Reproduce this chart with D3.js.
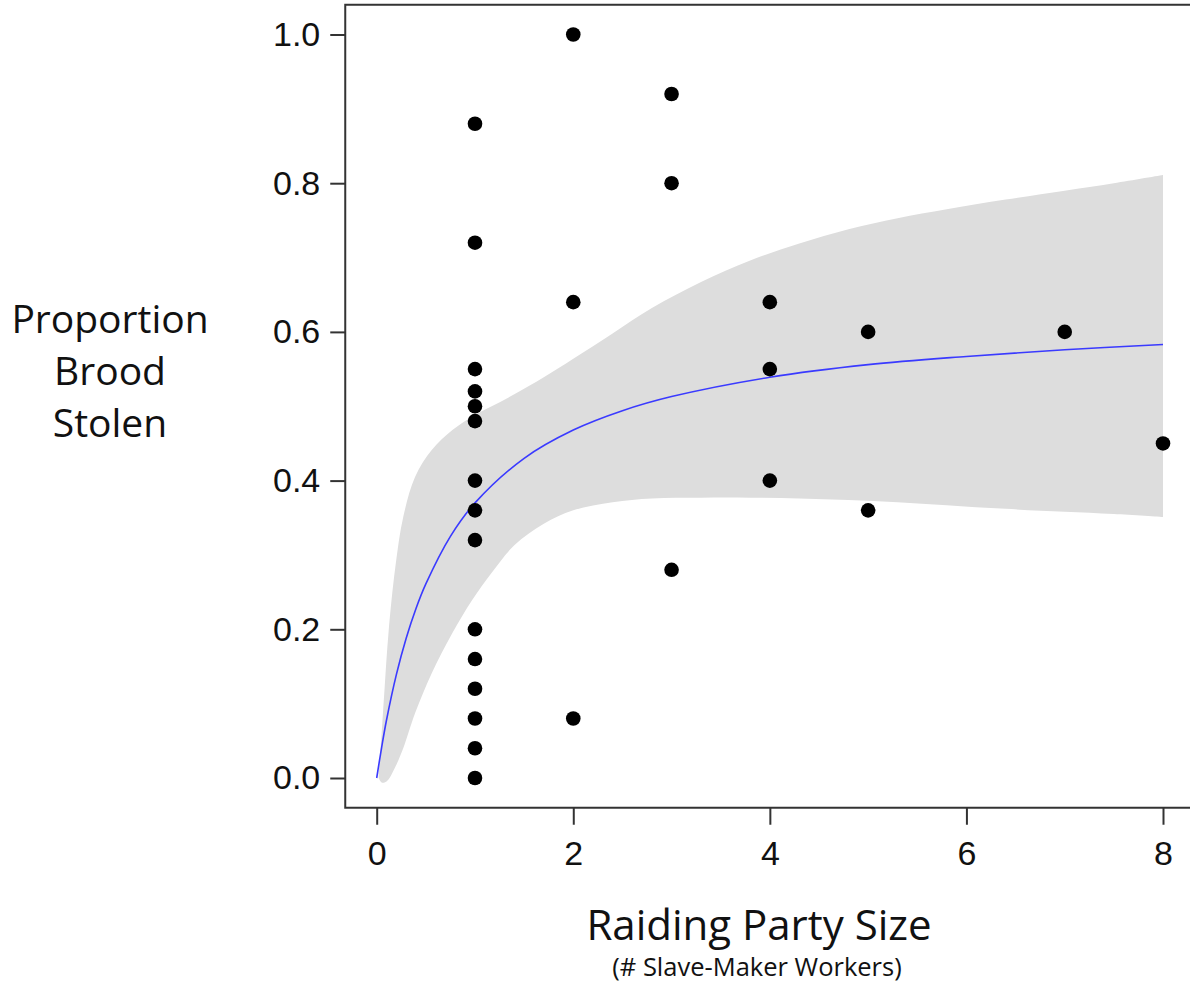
<!DOCTYPE html>
<html><head><meta charset="utf-8">
<script src="https://cdn.jsdelivr.net/npm/d3@7"></script>
<style>body{margin:0;background:#fff}svg{display:block}</style>
</head><body>
<svg id="c" width="1190" height="983"></svg>
<script>
// Observed data
const pointX = [1,1,1,1,1,1,1,1,1,1,1,1,1,1,1, 2,2,2, 3,3,3, 4,4,4, 5,5, 7, 8];
const pointY = [0.88,0.72,0.55,0.52,0.50,0.48,0.40,0.36,0.32,0.20,0.16,0.12,0.08,0.04,0.00,
                1.00,0.64,0.08, 0.92,0.80,0.28, 0.64,0.55,0.40, 0.60,0.36, 0.60, 0.45];
// Fitted curve
const fitX = [0,0.05,0.1,0.2,0.3,0.4,0.5,0.75,1,1.5,2,2.5,3,4,5,6,7,8];
const fitY = [0,0.041,0.078,0.139,0.188,0.228,0.261,0.325,0.370,0.430,0.468,0.494,0.513,0.539,0.556,0.567,0.576,0.583];
// Confidence band
const bandX = [0.02,0.05,0.08,0.12,0.19,0.27,0.39,0.56,0.77,0.97,1.17,1.4,1.7,2.0,2.4,2.8,3.3,3.8,4.3,4.8,5.3,5.8,6.4,7.0,7.5,8.0];
const bandUpper = [0.005,0.06,0.12,0.195,0.284,0.351,0.405,0.441,0.468,0.486,0.500,0.516,0.539,0.564,0.598,0.632,0.667,0.696,0.719,0.738,0.753,0.765,0.778,0.790,0.800,0.811];
const bandLower = [0.0,-0.006,-0.006,-0.002,0.015,0.040,0.087,0.141,0.195,0.239,0.276,0.313,0.342,0.360,0.371,0.376,0.377,0.377,0.376,0.374,0.371,0.367,0.362,0.358,0.355,0.351];
const xTicks = [0,2,4,6,8];
const yTicks = [0,0.2,0.4,0.6,0.8,1.0];
const xTitle = "Raiding Party Size";
const xSubtitle = "(# Slave-Maker Workers)";
const yTitleLines = ["Proportion","Brood","Stolen"];

const svg = d3.select("#c");
const x0 = 376.7, x8 = 1163;
const y0 = 778, y1 = 34.5;
const x = d3.scaleLinear().domain([0,8]).range([x0,x8]);
const y = d3.scaleLinear().domain([0,1]).range([y0,y1]);
const xd = [-0.32, 8.32], yd = [-0.04, 1.04];

// band
const band = bandX.map((v,i)=>({x:v,u:bandUpper[i],l:bandLower[i]}));
svg.append("path").datum(band)
  .attr("d", d3.area().x(d=>x(d.x)).y0(d=>y(d.l)).y1(d=>y(d.u)).curve(d3.curveCatmullRom.alpha(0.5)))
  .attr("fill","#dddddd");

// fit line
const fit = fitX.map((v,i)=>({x:v,y:fitY[i]}));
svg.append("path").datum(fit)
  .attr("d", d3.line().x(d=>x(d.x)).y(d=>y(d.y)).curve(d3.curveCatmullRom.alpha(0.5)))
  .attr("fill","none").attr("stroke","#3a3aff").attr("stroke-width",1.6);

// points
svg.append("g").selectAll("circle").data(pointX.map((v,i)=>({x:v,y:pointY[i]})))
  .join("circle").attr("cx",d=>x(d.x)).attr("cy",d=>y(d.y)).attr("r",7.3).attr("fill","#000");

// frame
svg.append("rect").attr("x",x(xd[0])).attr("y",y(yd[1]))
  .attr("width",x(xd[1])-x(xd[0])).attr("height",y(yd[0])-y(yd[1]))
  .attr("fill","none").attr("stroke","#333").attr("stroke-width",2);

// x axis
const xAxis = d3.axisBottom(x).tickValues(xTicks).tickFormat(d3.format("d")).tickSize(17).tickPadding(16);
const gx = svg.append("g").attr("transform",`translate(0,${y(yd[0])})`).call(xAxis);
gx.select(".domain").remove();
gx.selectAll("line").attr("stroke","#333").attr("stroke-width",2);
gx.selectAll("text").attr("font-family","'Liberation Sans', Arial, sans-serif").attr("font-size",34).attr("fill","#111");

// y axis
const yAxis = d3.axisLeft(y).tickValues(yTicks).tickFormat(d3.format(".1f")).tickSize(15).tickPadding(10);
const gy = svg.append("g").attr("transform",`translate(${x(xd[0])},0)`).call(yAxis);
gy.select(".domain").remove();
gy.selectAll("line").attr("stroke","#333").attr("stroke-width",2);
gy.selectAll("text").attr("font-family","'Liberation Sans', Arial, sans-serif").attr("font-size",34).attr("fill","#111");

// titles
svg.append("text").attr("x",759).attr("y",940).attr("text-anchor","middle")
  .attr("font-family","'Open Sans', sans-serif").attr("font-size",42).attr("fill","#111").text(xTitle);
svg.append("text").attr("x",757).attr("y",976).attr("text-anchor","middle")
  .attr("font-family","'Open Sans', sans-serif").attr("font-size",25.5).attr("fill","#111").text(xSubtitle);
svg.append("g").selectAll("text").data(yTitleLines).join("text")
  .attr("x",110).attr("y",(d,i)=>333+i*52).attr("text-anchor","middle")
  .attr("font-family","'Open Sans', sans-serif").attr("font-size",39).attr("fill","#111").text(d=>d);
</script>
</body></html>
